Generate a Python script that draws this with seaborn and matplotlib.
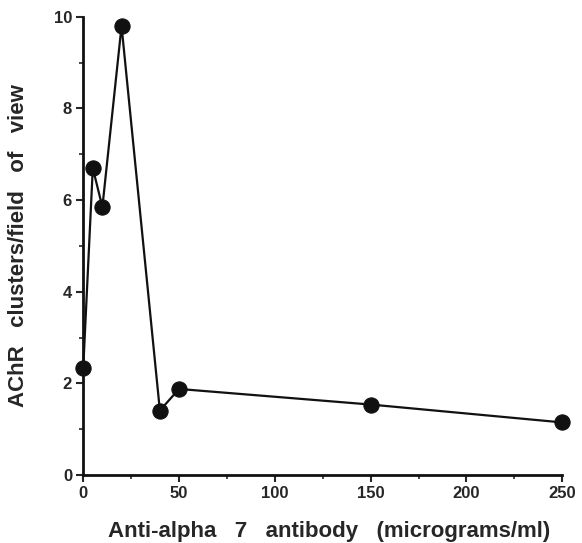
import numpy as np
import matplotlib
matplotlib.use("Agg")
import matplotlib.pyplot as plt
import seaborn as sns
import pandas as pd
from matplotlib.ticker import MultipleLocator

# Dose of antibody and clusters counted
dose = [0, 5, 10, 20, 40, 50, 150, 250]
clusters = [2.33, 6.70, 5.85, 9.80, 1.41, 1.88, 1.54, 1.15]

df = pd.DataFrame({"dose": dose, "clusters": clusters})

sns.set_style("ticks")
plt.rcParams['font.family'] = ['Liberation Sans', 'DejaVu Sans']
plt.rcParams['font.weight'] = 'bold'

fig = plt.figure(figsize=(5.82, 5.43), dpi=100)
ax = fig.add_axes([0.143, 0.125, 0.823, 0.844])

sns.lineplot(data=df, x="dose", y="clusters", ax=ax, color="#111111",
             linewidth=1.6, marker="o", markersize=11, markeredgecolor="#111111",
             clip_on=False)

ax.set_xlim(0, 250)
ax.set_ylim(0, 10)
ax.xaxis.set_major_locator(MultipleLocator(50))
ax.xaxis.set_minor_locator(MultipleLocator(25))
ax.yaxis.set_major_locator(MultipleLocator(2))
ax.yaxis.set_minor_locator(MultipleLocator(1))

sns.despine(ax=ax)
for s in ["left", "bottom"]:
    ax.spines[s].set_linewidth(2)
    ax.spines[s].set_color("#111111")

ax.tick_params(which="major", direction="out", length=5, width=1.5, labelsize=12, pad=3)
ax.tick_params(which="minor", direction="out", length=3, width=1.2)
for lab in ax.get_xticklabels() + ax.get_yticklabels():
    lab.set_fontweight("bold")

ax.set_xlabel("Anti-alpha   7   antibody   (micrograms/ml)", fontsize=16, fontweight="bold", va="center")
ax.set_ylabel("AChR   clusters/field   of   view", fontsize=16, fontweight="bold", va="center")
ax.xaxis.set_label_coords(0.514, -0.124)
ax.yaxis.set_label_coords(-0.136, 0.5)

fig.savefig("out.png", dpi=100)
